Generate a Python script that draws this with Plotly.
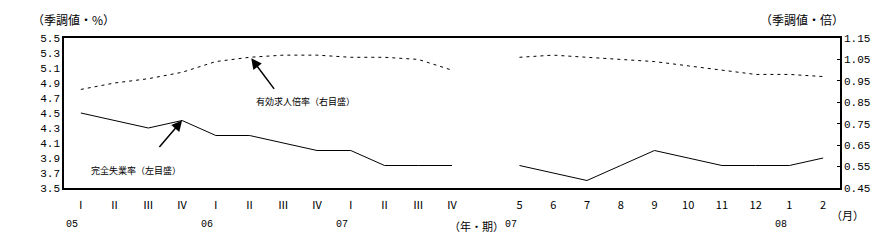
import plotly.graph_objects as go

quarter_labels = ["Ⅰ", "Ⅱ", "Ⅲ", "Ⅳ", "Ⅰ", "Ⅱ", "Ⅲ", "Ⅳ", "Ⅰ", "Ⅱ", "Ⅲ", "Ⅳ"]
month_labels = ["5", "6", "7", "8", "9", "10", "11", "12", "1", "2"]
tick_labels = quarter_labels + [""] + month_labels

# 完全失業率（%） quarterly 05Q1-07Q4, gap, monthly 07/5-08/2
unemp_q = [4.5, 4.4, 4.3, 4.4, 4.2, 4.2, 4.1, 4.0, 4.0, 3.8, 3.8, 3.8]
unemp_m = [3.8, 3.7, 3.6, 3.8, 4.0, 3.9, 3.8, 3.8, 3.8, 3.9]
# 有効求人倍率（倍）
ratio_q = [0.91, 0.94, 0.96, 0.99, 1.04, 1.06, 1.07, 1.07, 1.06, 1.06, 1.05, 1.00]
ratio_m = [1.06, 1.07, 1.06, 1.05, 1.04, 1.02, 1.00, 0.98, 0.98, 0.97]

year_labels = ["05", "06", "07", "07", "08"]
year_slots = [0, 4, 8, 13, 21]

unemp = unemp_q + [None] + unemp_m
ratio = ratio_q + [None] + ratio_m
xs = list(range(len(tick_labels)))

JP = "Noto Sans CJK JP"
NUM = "Liberation Mono"

fig = go.Figure()
fig.add_trace(go.Scatter(x=xs, y=unemp, mode="lines", line=dict(color="black", width=1),
                         connectgaps=False, showlegend=False, yaxis="y"))
fig.add_trace(go.Scatter(x=xs, y=ratio, mode="lines",
                         line=dict(color="black", width=1, dash="3px,4px"),
                         connectgaps=False, showlegend=False, yaxis="y2"))

fig.update_layout(
    width=881, height=244,
    margin=dict(l=64, r=41, t=38, b=56),
    paper_bgcolor="white", plot_bgcolor="white",
    font=dict(family=NUM, size=10, color="black"),
    xaxis=dict(range=[-0.5, len(xs) - 0.5], tickmode="array", tickvals=xs, ticktext=tick_labels,
               showgrid=False, zeroline=False, showline=True, linecolor="black", linewidth=1.5,
               mirror=True, ticks="outside", ticklen=6, tickcolor="rgba(0,0,0,0)",
               tickfont=dict(family=JP, size=11)),
    yaxis=dict(range=[3.5, 5.5], tickmode="linear", tick0=3.5, dtick=0.2, tickformat=".1f",
               showgrid=False, zeroline=False, showline=True, linecolor="black", linewidth=1.5,
               ticks="", tickfont=dict(family=NUM, size=11)),
    yaxis2=dict(range=[0.45, 1.15], tickmode="linear", tick0=0.45, dtick=0.1, tickformat=".2f",
                overlaying="y", side="right", showgrid=False, zeroline=False, showline=True,
                linecolor="black", linewidth=1.5, ticks="inside", ticklen=3, tickcolor="black",
                tickfont=dict(family=NUM, size=11)),
)


def px_x(p):
    return (p - 64) / 776


def px_y(p):
    return (188 - p) / 150


annotations = []
for lab, s in zip(year_labels, year_slots):
    annotations.append(dict(x=s - 0.25, y=0, xref="x", yref="paper", yanchor="top", yshift=-29,
                            text=lab, showarrow=False, font=dict(family=NUM, size=10)))
annotations += [
    dict(x=11.74, y=0, xref="x", yref="paper", yanchor="top", yshift=-28,
         text="（年・期）", showarrow=False, font=dict(family=JP, size=11)),
    dict(x=px_x(847), y=0, xref="paper", yref="paper", xanchor="center", yanchor="top", yshift=-17,
         text="（月）", showarrow=False, font=dict(family=JP, size=11)),
    dict(x=px_x(73), y=px_y(20), xref="paper", yref="paper", xanchor="center", yanchor="middle",
         text="（季調値・%）", showarrow=False, font=dict(family=JP, size=12)),
    dict(x=px_x(802), y=px_y(20), xref="paper", yref="paper", xanchor="center", yanchor="middle",
         text="（季調値・倍）", showarrow=False, font=dict(family=JP, size=12)),
    # callout arrows (tail offsets in pixels relative to head)
    dict(x=3, y=4.4, xref="x", yref="y", ax=157 - 181, ay=152 - 124,
         text="", showarrow=True, arrowhead=2, arrowsize=1.4, arrowwidth=1.5, arrowcolor="black"),
    dict(x=5.05, y=1.055, xref="x", yref="y2", ax=275 - 251, ay=92 - 60,
         text="", showarrow=True, arrowhead=2, arrowsize=1.4, arrowwidth=1.5, arrowcolor="black"),
    dict(x=px_x(136), y=px_y(170), xref="paper", yref="paper", xanchor="center", yanchor="middle",
         text="完全失業率（左目盛）", showarrow=False, font=dict(family=JP, size=9)),
    dict(x=px_x(305), y=px_y(101), xref="paper", yref="paper", xanchor="center", yanchor="middle",
         text="有効求人倍率（右目盛）", showarrow=False, font=dict(family=JP, size=9)),
]

fig.update_layout(annotations=annotations)
fig.write_html("out.html")
